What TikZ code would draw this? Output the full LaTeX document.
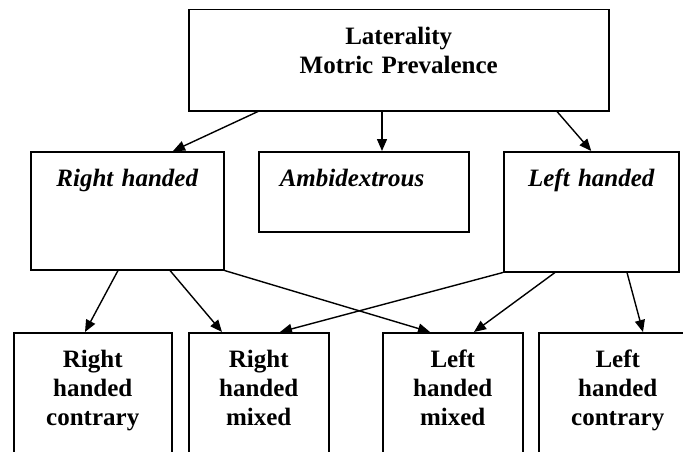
\documentclass[tikz,border=0pt]{standalone}
\usepackage{fontspec}
\setmainfont{Liberation Serif}
\usetikzlibrary{arrows.meta}

\begin{document}
\begin{tikzpicture}[x=1pt, y=-1pt,
    box/.style = {draw, line width=1.5pt, anchor=north west, align=center, inner sep=0pt, text height=35pt, font=\fontsize{25}{29}\selectfont\bfseries},
    kind/.style = {box, font=\fontsize{25}{29}\selectfont\bfseries\itshape},
    link/.style = {-{Triangle[length=12pt,width=10pt]}, line width=1.4pt}]
    \path[use as bounding box, clip] (0,0) rectangle (683,452);

    \node[box, text width=420pt, text depth=66pt] (L) at (188,9) {Laterality\\Motric Prevalence};

    \node[kind, text width=193pt, text depth=83pt] (RH) at (30,151) {Right handed};
    \node[kind, text width=168pt, inner xsep=21pt, align=left, text depth=45pt] (A) at (258,151) {Ambidextrous};
    \node[kind, text width=175pt, text depth=85pt] (LH) at (503,151) {Left handed};

    \node[box, text width=158pt, text depth=103pt] (RHC) at (13,332) {Right\\handed\\contrary};
    \node[box, text width=140pt, text depth=103pt] (RHM) at (188,332) {Right\\handed\\mixed};
    \node[box, text width=140pt, text depth=103pt] (LHM) at (382,332) {Left\\handed\\mixed};
    \node[box, text width=158pt, text depth=103pt] (LHC) at (538,332) {Left\\handed\\contrary};

    \draw[link] ([xshift=70pt]L.south west) -- ([xshift=143pt]RH.north west);
    \draw[link] ([xshift=194pt]L.south west) -- ([xshift=124pt]A.north west);
    \draw[link] ([xshift=369pt]L.south west) -- (LH.north);

    \draw[link] ([xshift=88pt]RH.south west) -- ([xshift=72pt]RHC.north west);
    \draw[link] ([xshift=140pt]RH.south west) -- ([xshift=34pt]RHM.north west);
    \draw[link] (RH.south east) -- ([xshift=48pt]LHM.north west);

    \draw[link] (LH.south west) -- ([xshift=92pt]RHM.north west);
    \draw[link] ([xshift=52pt]LH.south west) -- ([xshift=92pt]LHM.north west);
    \draw[link] ([xshift=124pt]LH.south west) -- ([xshift=105pt]LHC.north west);
\end{tikzpicture}
\end{document}
